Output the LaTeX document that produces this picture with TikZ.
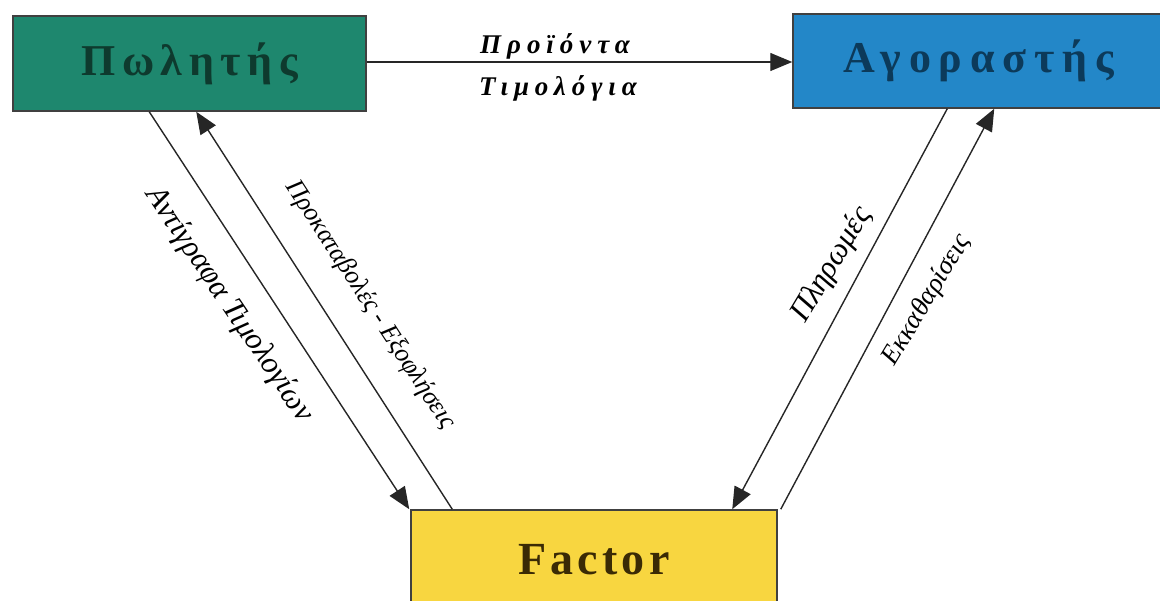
\documentclass[tikz,border=0pt]{standalone}
\usepackage{fontspec}
\setmainfont{Liberation Serif}
\usetikzlibrary{arrows.meta}
\definecolor{teal1}{HTML}{1E876E}
\definecolor{blue1}{HTML}{2387C8}
\definecolor{yell1}{HTML}{F8D640}
\definecolor{tealtxt}{HTML}{0E3A2E}
\definecolor{bluetxt}{HTML}{0C3A5A}
\definecolor{yelltxt}{HTML}{3A2A05}
\tikzset{
  party/.style={draw=black!75, line width=1.5pt, inner sep=0pt, anchor=center},
  conn/.style={line width=1.4pt, draw=black!85, -{Triangle[length=22pt,width=18pt]}},
  diaglab/.style={font=\fontsize{31}{34}\selectfont\itshape, inner sep=0pt},
  hlab/.style={font=\fontsize{27}{30}\selectfont\bfseries\itshape\addfontfeatures{LetterSpace=22}, inner sep=0pt}
}
\begin{document}
\begin{tikzpicture}[x=1pt,y=-1pt]
\useasboundingbox (0,0) rectangle (1160,601);
\node[party, fill=teal1, minimum width=353pt, minimum height=95pt, text=tealtxt,
      font=\fontsize{44}{46}\selectfont\bfseries\addfontfeatures{LetterSpace=15}] (pol) at (189.5,63.5) {Πωλητής};
\node[party, fill=blue1, minimum width=372pt, minimum height=94pt, text=bluetxt,
      font=\fontsize{44}{46}\selectfont\bfseries\addfontfeatures{LetterSpace=18}] (buy) at (979,61) {Αγοραστής};
\node[party, fill=yell1, minimum width=366pt, minimum height=100pt, text=yelltxt,
      font=\fontsize{46}{48}\selectfont\bfseries\addfontfeatures{LetterSpace=9}] (fac) at (594,560) {Factor};

\draw[conn] (pol.east |- 0,62) -- (buy.west |- 0,62);
\node[hlab] (l1) at (555,46) {Προϊόντα};
\node[hlab] (l2) at (558,88) {Τιμολόγια};

\draw[conn] ([xshift=137pt]pol.south west) -- ([xshift=-1pt]fac.north west);
\draw[conn] ([xshift=42pt]fac.north west) -- ([xshift=184pt]pol.south west);
\draw[conn] ([xshift=155pt]buy.south west) -- ([xshift=322pt]fac.north west);
\draw[conn] ([xshift=3pt]fac.north east) -- ([xshift=202pt]buy.south west);

\node[diaglab, rotate=-56] (l3) at (229,305) {Αντίγραφα Τιμολογίων};
\node[diaglab, font=\fontsize{26}{29}\selectfont\itshape, rotate=-57] (l4) at (370,305) {Προκαταβολές - Εξοφλήσεις};
\node[diaglab, rotate=59] (l5) at (832,265) {Πληρωμές};
\node[diaglab, font=\fontsize{27}{30}\selectfont\itshape, rotate=59] (l6) at (927,300) {Εκκαθαρίσεις};
\end{tikzpicture}
\end{document}
